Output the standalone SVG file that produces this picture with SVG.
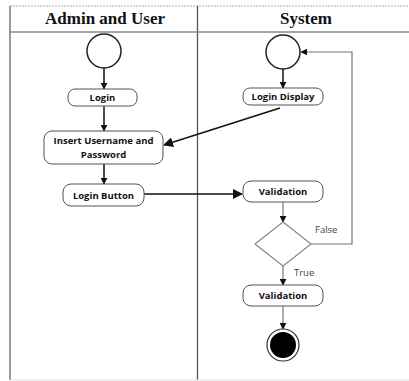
<svg xmlns="http://www.w3.org/2000/svg" width="409" height="381" viewBox="0 0 409 381">
<style>
.title{font-family:"Liberation Serif",serif;font-weight:bold;font-size:17px;fill:#111;text-anchor:middle}
.lbl{font-family:"Open Sans","Liberation Sans",sans-serif;font-weight:bold;font-size:9.5px;fill:#111;text-anchor:middle}
.guard{font-family:"Open Sans","Liberation Sans",sans-serif;font-size:9.5px;fill:#444}
.box{fill:#fff;stroke:#555;stroke-width:1}
.dark{stroke:#111;stroke-width:1.5;fill:none}
.grey{stroke:#777;stroke-width:1.2;fill:none}
</style>
<defs>
<marker id="ah" viewBox="0 0 10 10" refX="9" refY="5" markerWidth="7" markerHeight="7" markerUnits="userSpaceOnUse" orient="auto">
<path d="M0,0 L10,5 L0,10 Z" fill="#111"/>
</marker>
<marker id="ahb" viewBox="0 0 10 10" refX="9" refY="5" markerWidth="10" markerHeight="10" markerUnits="userSpaceOnUse" orient="auto">
<path d="M0,0 L10,5 L0,10 Z" fill="#111"/>
</marker>
</defs>
<rect width="409" height="381" fill="#fff"/>
<g id="frame">
<line x1="10" y1="6" x2="409" y2="6" stroke="#aaa" stroke-width="1" stroke-dasharray="2,1"/>
<line x1="10" y1="6" x2="10" y2="380" stroke="#999" stroke-width="2"/>
<line x1="197.5" y1="6" x2="197.5" y2="380" stroke="#555" stroke-width="1.3"/>
<line x1="10" y1="32" x2="409" y2="32" stroke="#888" stroke-width="1.3"/>
<line x1="10" y1="380" x2="409" y2="380" stroke="#ddd" stroke-width="1"/>
<text class="title" x="105" y="24">Admin and User</text>
<text class="title" x="306" y="24">System</text>
</g>
<g id="connectors">
<line class="dark" x1="104" y1="68" x2="104" y2="89" marker-end="url(#ah)"/>
<line class="dark" x1="104" y1="106" x2="104" y2="131" marker-end="url(#ah)"/>
<line class="dark" x1="104" y1="164" x2="104" y2="184" marker-end="url(#ah)"/>
<line class="dark" x1="283" y1="69" x2="283" y2="88" marker-end="url(#ah)"/>
<line class="dark" x1="280" y1="108" x2="164" y2="145" stroke-width="1.8" marker-end="url(#ahb)"/>
<line class="dark" x1="144" y1="194" x2="242" y2="194" stroke-width="1.8" marker-end="url(#ahb)"/>
<line class="grey" x1="283" y1="202" x2="283" y2="222" marker-end="url(#ah)"/>
<polyline class="grey" points="311,244 352,244 352,52 301,52" marker-end="url(#ah)"/>
<line class="grey" x1="283" y1="266" x2="283" y2="285" marker-end="url(#ah)"/>
<line class="grey" x1="283" y1="306" x2="283" y2="329" marker-end="url(#ah)"/>
<text class="guard" x="315" y="233">False</text>
<text class="guard" x="294" y="276">True</text>
</g>
<g id="start-user"><circle cx="104" cy="51" r="17" fill="#fff" stroke="#222" stroke-width="1.5"/></g>
<g id="login"><rect class="box" x="68" y="89" width="69" height="17" rx="7"/><text class="lbl" x="102.5" y="101">Login</text></g>
<g id="insert"><rect class="box" x="44" y="131" width="119" height="33" rx="8"/><text class="lbl" x="103.5" y="144">Insert Username and</text><text class="lbl" x="103.5" y="158">Password</text></g>
<g id="login-button"><rect class="box" x="63" y="184" width="81" height="22" rx="8"/><text class="lbl" x="103.5" y="198.5">Login Button</text></g>
<g id="start-system"><circle cx="283" cy="52" r="17" fill="#fff" stroke="#222" stroke-width="1.5"/></g>
<g id="login-display"><rect class="box" x="243" y="88" width="80" height="17" rx="7"/><text class="lbl" x="283" y="100">Login Display</text></g>
<g id="validation1"><rect class="box" x="243" y="181" width="80" height="21" rx="8"/><text class="lbl" x="283" y="195">Validation</text></g>
<g id="decision"><polygon points="283,222 311,244 283,266 255,244" fill="#fff" stroke="#888" stroke-width="1.2"/></g>
<g id="validation2"><rect class="box" x="243" y="285" width="80" height="21" rx="8"/><text class="lbl" x="283" y="299">Validation</text></g>
<g id="end"><circle cx="283" cy="345" r="16" fill="#fff" stroke="#333" stroke-width="1.2"/><circle cx="283" cy="345" r="13" fill="#000"/></g>
</svg>
